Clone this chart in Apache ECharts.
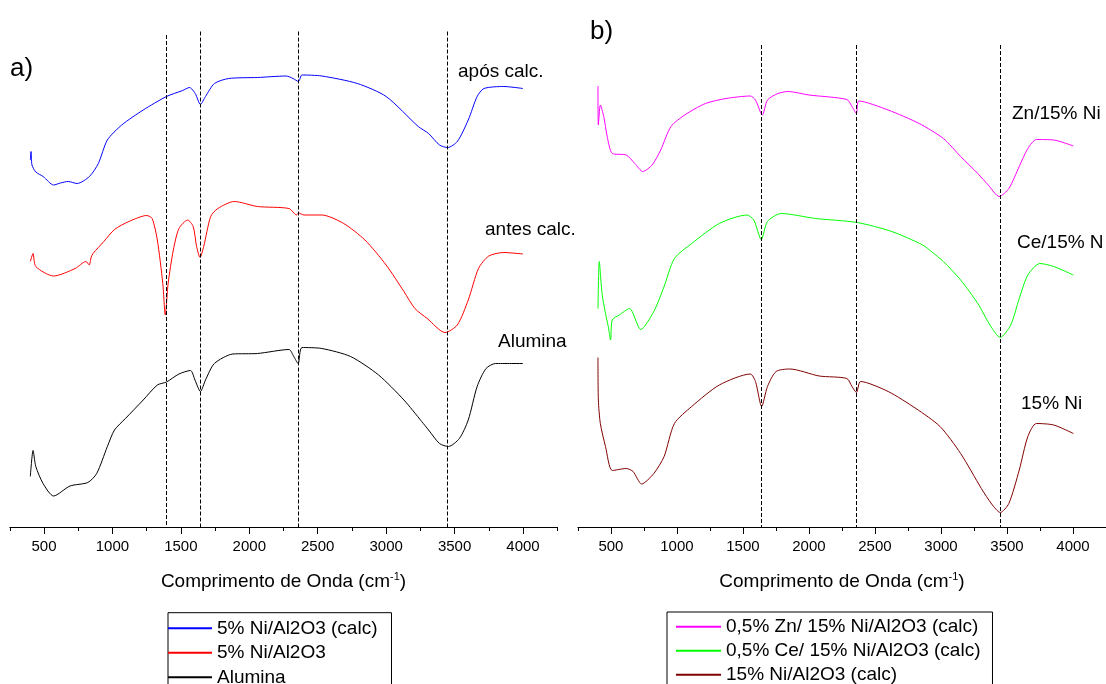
<!DOCTYPE html>
<html>
<head>
<meta charset="utf-8">
<title>FTIR</title>
<script src="https://cdn.jsdelivr.net/npm/echarts@6/dist/echarts.min.js"></script>
<style>
  html, body { margin: 0; padding: 0; background: #fff; }
  #mydiv { width: 1106px; height: 684px; }
</style>
</head>
<body>
<div id="mydiv"></div>
<script>
// numero de onda (cm-1) e transmitancia (u.a., com deslocamento entre curvas)
var xMajor = [500, 1000, 1500, 2000, 2500, 3000, 3500, 4000];
var xMinor = [250, 750, 1250, 1750, 2250, 2750, 3250, 3750, 4250];
var peakLinesA = [1390, 1640, 2360, 3450];
var peakLinesB = [1640, 2360, 3450];

// painel a)
var namesA = ["5% Ni/Al2O3 (calc)", "5% Ni/Al2O3", "Alumina"];
var ni5Calc = [[400,73.4],[405,75.1],[412,72.4],[440,71.0],[494,70.1],[570,68.4],[620,68.8],[677,69.1],[742,68.7],[832,70.1],[897,72.7],[963,77.4],[1068,80.4],[1225,83.4],[1395,86.1],[1513,87.3],[1563,87.9],[1605,86.7],[1643,84.5],[1680,86.1],[1745,88.7],[1850,89.7],[2060,89.9],[2270,90.2],[2320,89.7],[2360,89.1],[2385,90.4],[2530,90.2],[2790,88.7],[3000,86.1],[3235,80.1],[3310,78.7],[3390,76.4],[3450,75.9],[3520,77.1],[3600,81.4],[3665,86.1],[3715,87.7],[3860,88.1],[4000,87.7]];
var ni5 = [[400,53.1],[420,54.7],[440,52.1],[570,50.2],[728,51.7],[806,53.1],[830,52.4],[845,54.0],[858,54.7],[937,57.1],[1015,59.5],[1120,61.1],[1250,62.3],[1290,61.7],[1328,57.4],[1368,48.7],[1386,42.4],[1407,48.7],[1445,55.4],[1486,59.7],[1550,61.4],[1590,60.1],[1615,56.1],[1640,53.9],[1667,56.1],[1718,62.1],[1770,63.7],[1890,65.1],[2060,64.1],[2290,63.7],[2345,62.4],[2360,62.8],[2400,62.4],[2530,62.4],[2690,60.7],[2845,57.4],[3000,52.4],[3130,47.1],[3210,43.7],[3300,41.7],[3430,38.9],[3520,40.4],[3600,45.4],[3675,51.7],[3750,54.2],[3860,54.9],[4000,54.6]];
var alumina = [[400,10.1],[420,15.3],[440,12.1],[493,8.7],[570,6.2],[690,8.2],[820,8.9],[885,10.7],[963,16.1],[1015,19.4],[1095,21.7],[1225,25.4],[1328,28.4],[1395,29.0],[1486,30.6],[1570,31.3],[1603,29.4],[1643,27.1],[1680,29.4],[1745,32.7],[1880,34.6],[2060,34.7],[2290,35.5],[2325,34.1],[2357,32.7],[2385,35.9],[2530,35.7],[2740,34.1],[2945,30.4],[3130,25.4],[3260,21.1],[3310,19.4],[3390,16.7],[3455,16.1],[3535,17.7],[3600,21.4],[3665,28.1],[3730,31.7],[3800,32.7],[4000,32.7]];

// painel b)
var namesB = ["0,5% Zn/ 15% Ni/Al2O3 (calc)", "0,5% Ce/ 15% Ni/Al2O3 (calc)", "15% Ni/Al2O3 (calc)"];
var zn = [[402,88.2],[405,80.4],[420,84.4],[446,82.1],[472,78.1],[511,74.7],[616,74.4],[681,72.7],[741,71.1],[812,72.4],[877,75.4],[955,80.1],[1059,82.4],[1216,84.7],[1372,85.7],[1556,86.2],[1595,85.4],[1647,82.4],[1686,85.4],[1765,86.7],[1843,87.1],[2000,86.4],[2287,85.5],[2326,84.1],[2360,82.7],[2378,85.2],[2600,83.4],[2835,80.7],[3018,77.7],[3149,74.1],[3279,70.7],[3358,68.4],[3441,66.1],[3514,67.7],[3593,72.1],[3658,75.7],[3723,77.5],[3854,77.4],[4003,76.2]];
var ce = [[402,43.7],[412,53.1],[433,46.7],[459,42.7],[480,40.1],[498,37.4],[510,41.4],[563,42.4],[641,43.7],[726,39.5],[825,43.1],[903,48.1],[981,53.7],[1112,56.7],[1321,60.7],[1530,62.4],[1582,61.4],[1639,57.5],[1686,61.1],[1790,62.7],[2052,61.7],[2365,60.9],[2627,59.1],[2862,56.4],[2927,55.1],[3018,53.1],[3149,49.4],[3279,44.7],[3371,40.4],[3449,37.9],[3528,40.4],[3593,45.7],[3658,50.4],[3750,52.7],[3854,52.1],[4003,50.4]];
var ni15 = [[402,33.9],[405,25.4],[420,20.7],[459,16.1],[511,11.3],[616,11.7],[668,11.1],[733,8.6],[825,10.7],[903,14.1],[981,20.7],[1112,24.1],[1321,28.4],[1556,30.6],[1595,29.1],[1642,24.1],[1686,28.1],[1751,31.1],[1856,31.6],[2078,30.2],[2287,29.7],[2326,28.1],[2360,26.9],[2391,29.1],[2600,27.1],[2810,23.7],[2993,20.1],[3149,14.7],[3306,7.7],[3384,4.6],[3449,2.9],[3514,4.7],[3593,11.4],[3658,18.1],[3723,20.7],[3854,20.4],[4003,18.7]];

var FONT = '"Liberation Sans", Arial, sans-serif';

var mydiv = document.getElementById("mydiv");
var chart = echarts.init(mydiv);

function dashLines(vals, top) {
	return {
		silent: true,
		symbol: ["none", "none"],
		label: { show: false },
		lineStyle: { color: "#000", width: 1, type: [4, 2] },
		data: vals.map(function (v, i) {
			var t = Array.isArray(top) ? top[i] : top;
			return [{ coord: [v, t] }, { coord: [v, 0] }];
		})
	};
}

function xAxisMain(gi) {
	return {
		type: "value", gridIndex: gi, min: 250, max: 4250, interval: 250,
		axisLine: { show: true, onZero: false, lineStyle: { color: "#000", width: 1 } },
		axisTick: { show: true, length: 7, customValues: xMajor, lineStyle: { color: "#000", width: 1 } },
		axisLabel: {
			customValues: xMajor, margin: 12, color: "#000", fontSize: 15, fontFamily: FONT,
			formatter: function (v) { return String(v); }
		},
		splitLine: { show: false },
		name: "{t|Comprimento de Onda (cm}{s|-1}{t|)}",
		nameLocation: "middle", nameGap: 44,
		nameTextStyle: {
			rich: {
				t: { fontSize: 19, fontFamily: FONT, color: "#000", lineHeight: 22 },
				s: { fontSize: 11, fontFamily: FONT, color: "#000", verticalAlign: "top", lineHeight: 22, padding: [0, 0, 6, 0] }
			}
		}
	};
}
function xAxisMinor(gi) {
	return {
		type: "value", gridIndex: gi, min: 250, max: 4250, interval: 250, position: "bottom",
		axisLine: { show: false },
		axisTick: { show: true, length: 4, customValues: xMinor, lineStyle: { color: "#000", width: 1 } },
		axisLabel: { show: false },
		splitLine: { show: false }
	};
}
function yAxisHidden(gi) {
	return { type: "value", gridIndex: gi, min: 0, max: 100, show: false, splitLine: { show: false } };
}
function line(name, data, color, xi, yi) {
	return {
		name: name, type: "line", data: data, xAxisIndex: xi, yAxisIndex: yi,
		symbol: "none", showSymbol: false,
		smooth: 0.25,
		lineStyle: { color: color, width: 1 }, itemStyle: { color: color },
		emphasis: { disabled: true }
	};
}

var sA = [
	line(namesA[0], ni5Calc, "#0000ff", 0, 0),
	line(namesA[1], ni5, "#ff0000", 0, 0),
	line(namesA[2], alumina, "#000000", 0, 0)
];
sA[0].markLine = dashLines(peakLinesA, [98.4, 99.1, 99.1, 99.1]);

var sB = [
	line(namesB[0], zn, "#ff00ff", 2, 1),
	line(namesB[1], ce, "#00ff00", 2, 1),
	line(namesB[2], ni15, "#800000", 2, 1)
];
sB[0].markLine = dashLines(peakLinesB, 96.4);

function txt(s, x, y, size) {
	return {
		type: "text", x: x, y: y, silent: true,
		style: { text: s, fill: "#000", font: size + "px " + FONT, textVerticalAlign: "middle" }
	};
}

var option = {
	animation: false,
	grid: [
		{ left: 9.8, top: 27, width: 547.4, height: 500 },
		{ left: 577.9, top: 27, width: 533.2, height: 500 }
	],
	xAxis: [xAxisMain(0), xAxisMinor(0), xAxisMain(1), xAxisMinor(1)],
	yAxis: [yAxisHidden(0), yAxisHidden(1)],
	legend: [
		{
			data: namesA, orient: "vertical", left: 168, top: 612.7, width: 225, height: 120,
			itemWidth: 44, itemHeight: 2, icon: "rect", itemGap: 0.5,
			padding: [3.6, 14, 4, 0],
			borderColor: "#000", borderWidth: 1, selectedMode: false,
			textStyle: { fontSize: 19, fontFamily: FONT, color: "#000", lineHeight: 24 }
		},
		{
			data: namesB, orient: "vertical", left: 667, top: 612, width: 326, height: 120,
			itemWidth: 45, itemHeight: 2, icon: "rect", itemGap: 0,
			padding: [2.7, 12, 4, 9],
			borderColor: "#000", borderWidth: 1, selectedMode: false,
			textStyle: { fontSize: 19, fontFamily: FONT, color: "#000", lineHeight: 24 }
		}
	],
	graphic: [
		txt("a)", 10, 69, 26),
		txt("b)", 590, 32, 26),
		txt("após calc.", 458, 72, 19),
		txt("antes calc.", 485, 230, 19),
		txt("Alumina", 498, 342, 19),
		txt("Zn/15% Ni", 1012, 114, 19),
		txt("Ce/15% N", 1017, 243, 19),
		txt("15% Ni", 1021, 404, 19)
	],
	series: sA.concat(sB)
};

chart.setOption(option);
</script>
</body>
</html>
